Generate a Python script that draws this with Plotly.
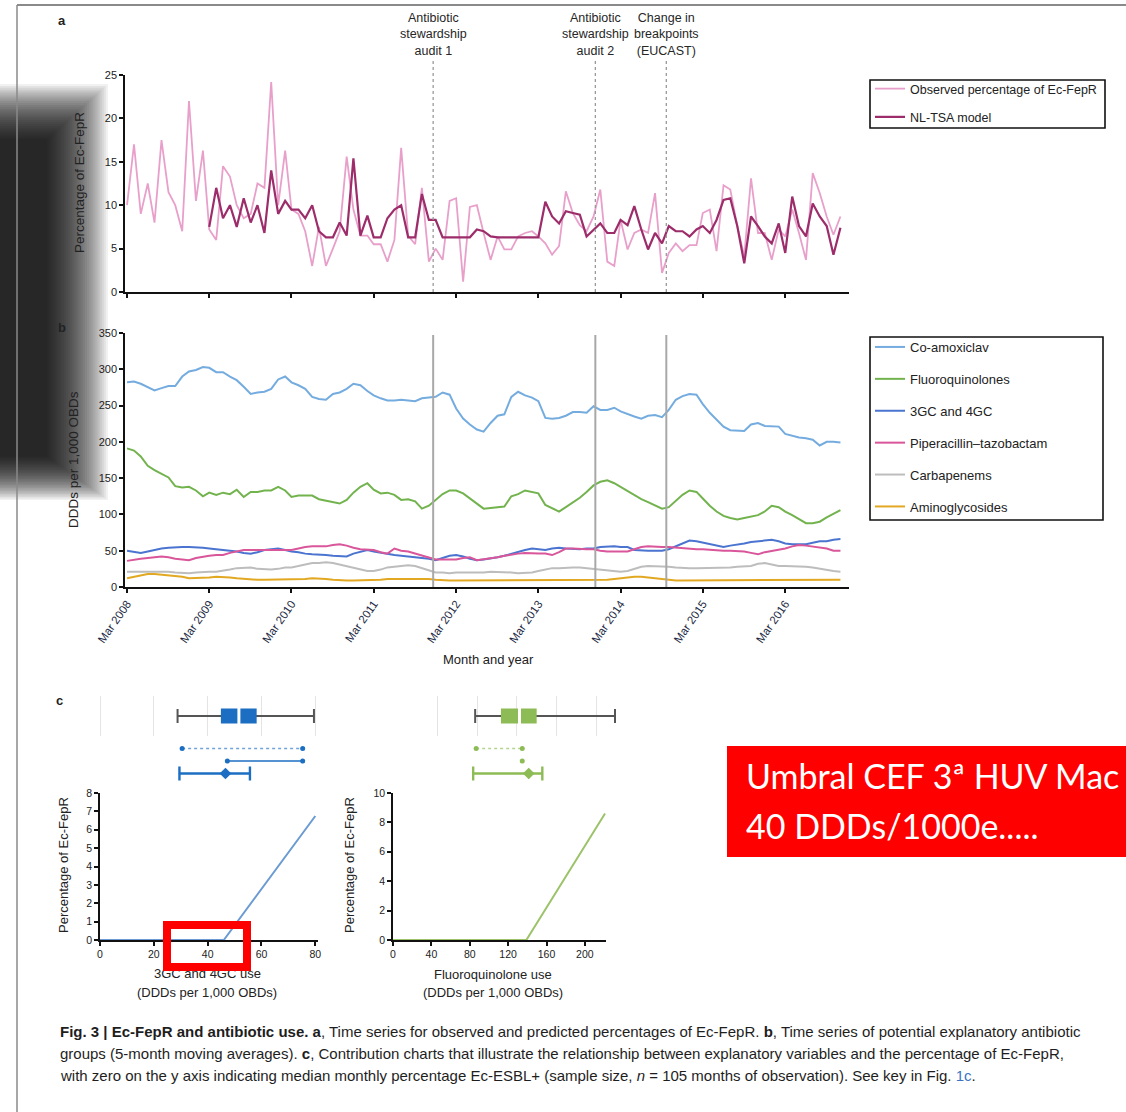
import pandas as pd
import plotly.graph_objects as go

W, H = 1126, 1112


def fx(p):
    return p / W


def fy(p):
    return 1 - p / H


# ---------------- data ----------------
observed = [10, 17, 9, 12.5, 8, 17.5, 11.5, 10, 7, 22,
            10.5, 16.3, 7.2, 6, 14.5, 13.3, 10, 8.5, 9, 12.5,
            12, 24.2, 10, 16.3, 9.5, 9, 7, 3, 7.5, 3,
            5, 7, 15.6, 9.5, 6.5, 6.5, 5.5, 5.5, 3.5, 6,
            16.6, 6.5, 5.5, 12, 3.5, 5, 3.7, 10.5, 10.8, 1.2,
            9.8, 10, 6.8, 3.7, 6.4, 4.9, 4.9, 6.4, 6.8, 7,
            6.4, 5.6, 4.3, 5.3, 11.6, 9.1, 7.7, 7, 8.7, 11.8,
            3.5, 3, 8.3, 4.9, 6.8, 7.2, 6.8, 11.4, 2.2, 4.5,
            5.6, 4.7, 5.4, 5.4, 9.1, 9.5, 4.7, 12.3, 11.8, 7.6,
            4.1, 13.1, 6.8, 6.8, 3.7, 7.2, 6.4, 9.5, 6.8, 3.7,
            13.7, 11.4, 8.7, 6.6, 8.7]
model = [None] * 12 + [
    7.5, 12, 8.5, 10, 7.5, 10.8, 8, 10, 6.8, 14,
    9, 10.5, 9.5, 9.5, 8.5, 10, 7, 6.3, 6.3, 8,
    6.5, 15.4, 6.5, 8.8, 6.3, 6.3, 8.5, 9.5, 10, 6.3,
    6.3, 11.3, 8.3, 8.3, 6.3, 6.3, 6.3, 6.3, 6.3, 7.2,
    7, 6.4, 6.3, 6.3, 6.3, 6.3, 6.3, 6.3, 6.3, 10.4,
    8.7, 7.9, 9.3, 9.1, 8.9, 6.4, 7.2, 7.9, 6.8, 6.8,
    8.3, 7.7, 9.9, 7.2, 4.9, 6.8, 5.6, 7.6, 7, 7,
    6.4, 7.2, 7.6, 6.8, 8.3, 10.6, 10.8, 7.6, 3.3, 8.7,
    7.6, 6.4, 5.6, 7.9, 4.5, 11, 7.6, 6.4, 10.2, 8.7,
    7.6, 4.3, 7.4]

co_amoxiclav = [282, 283, 280, 275, 271, 274, 277, 277, 290, 297,
                299, 303, 302, 296, 296, 290, 285, 276, 266, 268,
                269, 273, 286, 290, 282, 278, 273, 262, 259, 258,
                266, 268, 273, 280, 278, 270, 264, 260, 257, 257,
                258, 257, 256, 260, 261, 262, 268, 265, 246, 232,
                224, 217, 214, 226, 236, 238, 262, 269, 264, 261,
                256, 233, 232, 233, 236, 241, 241, 240, 249, 244,
                244, 247, 242, 238, 235, 232, 236, 237, 234, 244,
                258, 263, 266, 265, 252, 240, 230, 221, 216, 215,
                215, 224, 226, 222, 222, 221, 211, 208, 206, 205,
                203, 195, 200, 200, 199]
fluoroquinolones = [191, 188, 180, 167, 161, 156, 151, 139, 137, 138,
                    133, 125, 130, 127, 130, 128, 134, 124, 131, 131,
                    133, 133, 138, 133, 124, 126, 126, 126, 121, 119,
                    117, 115, 120, 130, 138, 143, 134, 129, 130, 127,
                    120, 121, 118, 108, 112, 120, 128, 133, 133, 129,
                    122, 114, 108, 109, 110, 111, 125, 128, 133, 131,
                    129, 113, 108, 104, 110, 116, 123, 131, 140, 145,
                    147, 143, 138, 133, 127, 121, 117, 112, 108, 110,
                    118, 127, 133, 131, 122, 112, 104, 98, 95, 93,
                    95, 97, 99, 104, 112, 110, 104, 99, 93, 88,
                    88, 90, 96, 101, 106]
gc_3_4 = [50, 48, 47, 49, 51, 53, 54, 55, 55, 55,
          55, 54, 53, 52, 51, 51, 49, 47, 46, 48,
          51, 52, 53, 51, 49, 48, 46, 45, 45, 44,
          43, 42, 42, 46, 49, 51, 49, 47, 45, 44,
          43, 42, 42, 41, 39, 37, 40, 43, 44, 42,
          39, 37, 38, 39, 41, 43, 46, 48, 51, 53,
          52, 51, 53, 54, 53, 52, 52, 53, 53, 55,
          56, 56, 55, 55, 51, 50, 50, 50, 50, 52,
          56, 60, 64, 63, 61, 59, 57, 55, 57, 58,
          60, 62, 63, 64, 65, 63, 60, 59, 59, 59,
          61, 63, 63, 65, 66]
pip_tazo = [36, 37, 39, 40, 41, 42, 41, 39, 38, 37,
            40, 42, 43, 44, 44, 47, 49, 51, 51, 51,
            51, 51, 51, 51, 51, 53, 55, 56, 56, 56,
            58, 59, 57, 54, 52, 51, 51, 48, 46, 53,
            50, 49, 46, 44, 40, 38, 38, 38, 38, 40,
            41, 37, 38, 39, 41, 43, 44, 46, 47, 46,
            46, 46, 44, 48, 53, 53, 52, 52, 52, 50,
            49, 49, 49, 49, 52, 55, 56, 55, 55, 55,
            54, 54, 53, 52, 52, 51, 51, 50, 50, 50,
            49, 47, 45, 48, 50, 51, 53, 56, 58, 57,
            56, 55, 53, 50, 50]
carbapenems = [21, 21, 22, 22, 22, 22, 21, 20, 19, 19,
               20, 21, 21, 21, 22, 24, 26, 27, 27, 25,
               24, 24, 25, 27, 27, 29, 32, 33, 33, 34,
               33, 31, 28, 27, 24, 22, 22, 24, 27, 28,
               29, 30, 29, 26, 22, 20, 20, 19, 20, 20,
               19, 19, 20, 21, 21, 20, 20, 19, 19, 20,
               22, 24, 26, 26, 27, 27, 27, 26, 24, 23,
               22, 21, 21, 22, 25, 28, 29, 29, 29, 28,
               27, 26, 26, 26, 26, 26, 26, 26, 27, 28,
               28, 29, 32, 33, 31, 29, 29, 29, 28, 28,
               27, 25, 24, 22, 21]
aminoglycosides = [12, 14, 16, 18, 18, 17, 16, 15, 14, 12,
                   12, 13, 13, 14, 14, 13, 12, 11, 11, 10,
                   10, 10, 10, 10, 10, 10, 11, 12, 12, 11,
                   10, 9, 9, 9, 9, 10, 10, 10, 11, 11,
                   12, 12, 12, 12, 11, 10, 9, 9, 9, 9,
                   9, 9, 9, 9, 9, 9, 10, 10, 10, 9,
                   9, 9, 9, 9, 9, 9, 9, 9, 9, 9,
                   10, 11, 12, 13, 14, 14, 13, 12, 11, 10,
                   9, 9, 9, 9, 9, 9, 9, 9, 9, 10,
                   10, 10, 9, 9, 9, 9, 9, 9, 10, 10,
                   10, 10, 10, 10, 10]

months = pd.date_range("2008-03-01", periods=len(observed), freq="MS")
tick_dates = ["2008-03-01", "2009-03-01", "2010-03-01", "2011-03-01", "2012-03-01",
              "2013-03-01", "2014-03-01", "2015-03-01", "2016-03-01"]
tick_labels = ["Mar 2008", "Mar 2009", "Mar 2010", "Mar 2011", "Mar 2012",
               "Mar 2013", "Mar 2014", "Mar 2015", "Mar 2016"]
x_range = ["2008-02-21", "2016-12-09"]

event_dates = ["2011-11-20", "2013-11-09", "2014-09-20"]
event_labels = ["Antibiotic<br>stewardship<br>audit 1",
                "Antibiotic<br>stewardship<br>audit 2",
                "Change in<br>breakpoints<br>(EUCAST)"]

series_b_names = ["Co-amoxiclav", "Fluoroquinolones", "3GC and 4GC",
                  "Piperacillin–tazobactam", "Carbapenems", "Aminoglycosides"]
series_b_values = [co_amoxiclav, fluoroquinolones, gc_3_4, pip_tazo, carbapenems, aminoglycosides]
series_b_colors = ["#74ACDF", "#72B34E", "#4A74CF", "#D9569A", "#BDBDBD", "#E2A822"]

# panel c: contribution curves
gc_use_x = [0, 46, 80]
gc_contrib_y = [0, 0, 6.75]
fq_use_x = [0, 139, 221]
fq_contrib_y = [0, 0, 8.6]

# panel c: distribution summaries (low whisker, q1, median, q3, high whisker)
gc_box = [28.8, 44.9, 51.6, 58.2, 79.5]
fq_box = [78, 104, 122.7, 140, 219]
gc_row1 = [30.5, 75.3]
gc_row2 = [47.3, 75.3]
gc_row3 = [29.5, 55.7]
gc_row3_mark = [46.6]
fq_row1 = [80, 126.5]
fq_row2 = [126.5]
fq_row3 = [77, 146.7]
fq_row3_mark = [133]

gc_ticks = [0, 20, 40, 60, 80]
fq_ticks = [0, 40, 80, 120, 160, 200]

# ---------------- figure ----------------
FONT = "Liberation Sans, Arial, sans-serif"
INK = "#222222"
BLUE_C = "#1B6EC2"
GREEN_C = "#8DBB55"

fig = go.Figure()

# panel a
fig.add_trace(go.Scatter(x=months, y=observed, mode="lines", name="Observed percentage of Ec-FepR",
                         line=dict(color="#E8A0CB", width=1.8), xaxis="x", yaxis="y",
                         legend="legend", legendgroup="a1"))
fig.add_trace(go.Scatter(x=months, y=model, mode="lines", name="NL-TSA model",
                         line=dict(color="#9C2D6A", width=2.2), xaxis="x", yaxis="y",
                         legend="legend", legendgroup="a2"))

# panel b
for nm, vals, col in zip(series_b_names, series_b_values, series_b_colors):
    fig.add_trace(go.Scatter(x=months, y=vals, mode="lines", name=nm,
                             line=dict(color=col, width=2), xaxis="x2", yaxis="y2",
                             legend="legend2", legendgroup=nm))


def add_strip(box, r1, r2, r3, r3m, color, light, xa_box, ya_box, xa_row, ya_row):
    common = dict(showlegend=False, hoverinfo="skip")
    fig.add_trace(go.Scatter(x=[box[0], box[4]], y=[0, 0], mode="lines+markers",
                             line=dict(color="#555555", width=2),
                             marker=dict(symbol="line-ns", size=10, line=dict(width=2, color="#555555")),
                             xaxis=xa_box, yaxis=ya_box, **common))
    fig.add_trace(go.Scatter(x=[box[1], box[3]], y=[0, 0], mode="lines",
                             line=dict(color=color, width=15),
                             xaxis=xa_box, yaxis=ya_box, **common))
    fig.add_trace(go.Scatter(x=[box[2]], y=[0], mode="markers",
                             marker=dict(symbol="line-ns", size=17, line=dict(width=3, color="white")),
                             xaxis=xa_box, yaxis=ya_box, **common))
    fig.add_trace(go.Scatter(x=r1, y=[0] * len(r1), mode="lines+markers",
                             line=dict(color=light, width=1.6, dash="dot"),
                             marker=dict(symbol="circle", size=5, color=color),
                             xaxis=xa_row, yaxis=ya_row, **common))
    fig.add_trace(go.Scatter(x=r2, y=[1] * len(r2), mode="lines+markers",
                             line=dict(color=color, width=1.4),
                             marker=dict(symbol="circle", size=5, color=color),
                             xaxis=xa_row, yaxis=ya_row, **common))
    fig.add_trace(go.Scatter(x=r3, y=[2] * len(r3), mode="lines+markers",
                             line=dict(color=color, width=2.6),
                             marker=dict(symbol="line-ns", size=10, line=dict(width=2.4, color=color)),
                             xaxis=xa_row, yaxis=ya_row, **common))
    fig.add_trace(go.Scatter(x=r3m, y=[2] * len(r3m), mode="markers",
                             marker=dict(symbol="diamond", size=9, color=color),
                             xaxis=xa_row, yaxis=ya_row, **common))


add_strip(gc_box, gc_row1, gc_row2, gc_row3, gc_row3_mark, BLUE_C, "#6FA3DA", "x3", "y3", "x4", "y4")
add_strip(fq_box, fq_row1, fq_row2, fq_row3, fq_row3_mark, GREEN_C, "#B5D48E", "x6", "y6", "x7", "y7")

fig.add_trace(go.Scatter(x=gc_use_x, y=gc_contrib_y, mode="lines", line=dict(color="#6B9BD2", width=2),
                         xaxis="x5", yaxis="y5", showlegend=False, hoverinfo="skip"))
fig.add_trace(go.Scatter(x=fq_use_x, y=fq_contrib_y, mode="lines", line=dict(color="#9CC36A", width=2),
                         xaxis="x8", yaxis="y8", showlegend=False, hoverinfo="skip"))

# ---------------- axes ----------------
ax = dict(showline=True, linecolor="#111111", linewidth=1.5, ticks="outside", ticklen=4,
          tickwidth=1.5, tickcolor="#111111", showgrid=False, zeroline=False, automargin=False,
          tickfont=dict(size=11, color=INK, family=FONT), fixedrange=True)
hidden = dict(visible=True, showline=False, showticklabels=False, ticks="", zeroline=False,
              showgrid=False, fixedrange=True, automargin=False)
small_tick = dict(size=10.5, color=INK, family=FONT)

layout_axes = dict(
    xaxis=dict(ax, type="date", domain=[fx(125), fx(849)], range=x_range, anchor="y",
               tickvals=tick_dates, showticklabels=False),
    yaxis=dict(ax, domain=[fy(292), fy(75)], range=[0, 25], dtick=5, anchor="x"),
    xaxis2=dict(ax, type="date", domain=[fx(125), fx(849)], range=x_range, anchor="y2",
                tickvals=tick_dates, ticktext=tick_labels, tickangle=-55,
                tickfont=dict(size=11.5, color="#1d2a44", family=FONT)),
    yaxis2=dict(ax, domain=[fy(587), fy(333)], range=[0, 350], dtick=50, anchor="x2"),
    xaxis3=dict(hidden, domain=[fx(99), fx(318)], range=[-0.4, 81], anchor="y3",
                showgrid=True, gridcolor="#E4E4E4", gridwidth=1, tickvals=gc_ticks),
    yaxis3=dict(hidden, domain=[fy(736), fy(696)], range=[-1, 1], anchor="x3"),
    xaxis4=dict(hidden, domain=[fx(99), fx(318)], range=[-0.4, 81], anchor="y4"),
    yaxis4=dict(hidden, domain=[fy(781), fy(741)], range=[2.6, -0.6], anchor="x4"),
    xaxis5=dict(ax, domain=[fx(100), fx(318)], range=[0, 81], anchor="y5", tickvals=gc_ticks,
                tickfont=small_tick),
    yaxis5=dict(ax, domain=[fy(940), fy(793)], range=[0, 8], dtick=1, anchor="x5", tickfont=small_tick),
    xaxis6=dict(hidden, domain=[fx(397), fx(618)], range=[-0.8, 222], anchor="y6",
                showgrid=True, gridcolor="#E4E4E4", gridwidth=1, tickvals=fq_ticks),
    yaxis6=dict(hidden, domain=[fy(736), fy(696)], range=[-1, 1], anchor="x6"),
    xaxis7=dict(hidden, domain=[fx(396), fx(617)], range=[-0.8, 222], anchor="y7"),
    yaxis7=dict(hidden, domain=[fy(781), fy(741)], range=[2.6, -0.6], anchor="x7"),
    xaxis8=dict(ax, domain=[fx(393), fx(606)], range=[0, 222], anchor="y8", tickvals=fq_ticks,
                tickfont=small_tick),
    yaxis8=dict(ax, domain=[fy(940), fy(793)], range=[0, 10], dtick=2, anchor="x8", tickfont=small_tick),
)

# ---------------- shapes ----------------
shapes = []
# slide shadow on the left edge (soft, built from stacked translucent layers)
for k in range(30):
    shapes.append(dict(type="rect", xref="paper", yref="paper", layer="below",
                       x0=fx(0), x1=fx(108 - 2.1 * k), y0=fy(500 - 1.5 * k), y1=fy(84 + 1.9 * k),
                       fillcolor="rgba(0,0,0,0.053)", line=dict(width=0)))
# frame
shapes.append(dict(type="line", xref="paper", yref="paper", layer="below",
                   x0=fx(17), x1=fx(1126), y0=fy(5), y1=fy(5), line=dict(color="#8a8a8a", width=2)))
shapes.append(dict(type="line", xref="paper", yref="paper", layer="below",
                   x0=fx(17), x1=fx(17), y0=fy(5), y1=fy(1112), line=dict(color="#8a8a8a", width=1.5)))
# legend frames
shapes.append(dict(type="rect", xref="paper", yref="paper", layer="below",
                   x0=fx(870), x1=fx(1105), y0=fy(128), y1=fy(80),
                   fillcolor="white", line=dict(color="#111111", width=1.6)))
shapes.append(dict(type="rect", xref="paper", yref="paper", layer="below",
                   x0=fx(870), x1=fx(1103), y0=fy(520), y1=fy(337),
                   fillcolor="white", line=dict(color="#111111", width=1.6)))
for d in event_dates:
    shapes.append(dict(type="line", xref="x", yref="paper", x0=d, x1=d, y0=fy(292), y1=fy(58),
                       line=dict(color="#9a9a9a", width=1.3, dash="dot")))
    shapes.append(dict(type="line", xref="x2", yref="paper", x0=d, x1=d, y0=fy(587), y1=fy(335),
                       line=dict(color="#a8a8a8", width=2)))
# red highlight panel
shapes.append(dict(type="rect", xref="paper", yref="paper", layer="above",
                   x0=fx(727), x1=fx(1126), y0=fy(857), y1=fy(746),
                   fillcolor="#FF0000", line=dict(width=0)))

# ---------------- annotations ----------------
ann = []


def txt(x, y, text, size=12, angle=0, xanchor="center", yanchor="middle", family=FONT,
        color=INK, align="center", xref="paper", bold=False):
    ann.append(dict(x=x if xref != "paper" else fx(x), y=fy(y), xref=xref, yref="paper",
                    text=f"<b>{text}</b>" if bold else text, showarrow=False,
                    textangle=angle, xanchor=xanchor, yanchor=yanchor, align=align,
                    font=dict(size=size, family=family, color=color)))


txt(62, 20, "a", size=13, bold=True)
txt(62, 328, "b", size=13, bold=True)
txt(60, 700, "c", size=13, bold=True)
for d, lab in zip(event_dates, event_labels):
    txt(d, 60, lab, size=12.5, xref="x", yanchor="bottom", color="#262626")
txt(80, 183, "Percentage of Ec-FepR", size=13.5, angle=-90)
txt(73, 460, "DDDs per 1,000 OBDs", size=13.5, angle=-90)
txt(488, 659, "Month and year", size=13)
txt(63, 865, "Percentage of Ec-FepR", size=13, angle=-90)
txt(349, 865, "Percentage of Ec-FepR", size=13, angle=-90)
txt(207, 973, "3GC and 4GC use", size=13)
txt(207, 992, "(DDDs per 1,000 OBDs)", size=13)
txt(493, 974, "Fluoroquinolone use", size=13)
txt(493, 992, "(DDDs per 1,000 OBDs)", size=13)

# hollow red highlight box (drawn over the axis title)
ann.append(dict(x=fx(207), y=fy(946), xref="paper", yref="paper", text=" ", showarrow=False,
                width=72, height=34, borderpad=0, bordercolor="#FF0000", borderwidth=8,
                bgcolor="rgba(0,0,0,0)", xanchor="center", yanchor="middle"))

txt(744, 775, "Umbral CEF 3ª HUV Mac", size=34, xanchor="left", family="Lato, Open Sans, sans-serif",
    color="white", align="left")
txt(744, 825, "40 DDDs/1000e.....", size=34, xanchor="left", family="Lato, Open Sans, sans-serif",
    color="white", align="left")

cap1 = ("<b>Fig. 3 | Ec-FepR and antibiotic use. a</b>, Time series for observed and predicted percentages "
        "of Ec-FepR. <b>b</b>, Time series of potential explanatory antibiotic")
cap2 = ("groups (5-month moving averages). <b>c</b>, Contribution charts that illustrate the relationship "
        "between explanatory variables and the percentage of Ec-FepR,")
cap3 = ("with zero on the y axis indicating median monthly percentage Ec-ESBL+ (sample size, "
        "<i>n</i> = 105 months of observation). See key in Fig. <span style='color:#3b74c4'>1c</span>.")
for yy, c in zip([1031, 1053, 1075], [cap1, cap2, cap3]):
    txt(58, yy, c, size=15, xanchor="left", color="#1e1e1e", align="left")

fig.update_layout(
    width=W, height=H, margin=dict(l=0, r=0, t=0, b=0, pad=0, autoexpand=False),
    paper_bgcolor="white", plot_bgcolor="rgba(0,0,0,0)",
    font=dict(family=FONT, size=12, color=INK),
    shapes=shapes, annotations=ann, hovermode=False,
    legend=dict(x=fx(870), y=fy(74), xanchor="left", yanchor="top", bgcolor="rgba(0,0,0,0)",
                borderwidth=0, tracegroupgap=9, itemwidth=30,
                font=dict(size=12.5, family=FONT, color=INK)),
    legend2=dict(x=fx(870), y=fy(332), xanchor="left", yanchor="top", bgcolor="rgba(0,0,0,0)",
                 borderwidth=0, tracegroupgap=12, itemwidth=30,
                 font=dict(size=13, family=FONT, color=INK)),
    **layout_axes,
)

fig.write_html("out.html", config={"displayModeBar": False},
               post_script="document.body.style.margin='0';")
